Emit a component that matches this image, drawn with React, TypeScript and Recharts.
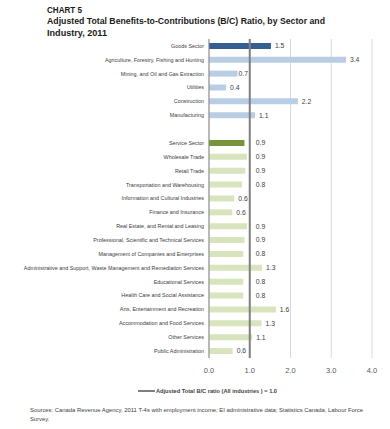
import React from 'react';
import { BarChart, Bar, XAxis, YAxis, CartesianGrid, ReferenceLine, Cell, LabelList } from 'recharts';

const CATEGORIES = [
  'Goods Sector',
  'Agriculture, Forestry, Fishing and Hunting',
  'Mining, and Oil and Gas Extraction',
  'Utilities',
  'Construction',
  'Manufacturing',
  '',
  'Service Sector',
  'Wholesale Trade',
  'Retail Trade',
  'Transportation and Warehousing',
  'Information and Cultural Industries',
  'Finance and Insurance',
  'Real Estate, and Rental and Leasing',
  'Professional, Scientific and Technical Services',
  'Management of Companies and Enterprises',
  'Administrative and Support, Waste Management and Remediation Services',
  'Educational Services',
  'Health Care and Social Assistance',
  'Arts, Entertainment and Recreation',
  'Accommodation and Food Services',
  'Other Services',
  'Public Administration',
];

const RATIOS: (number | null)[] = [
  1.52, 3.36, 0.7, 0.42, 2.18, 1.13,
  null,
  0.87, 0.93, 0.89, 0.81, 0.62, 0.57, 0.93, 0.87, 0.84, 1.3, 0.84, 0.84, 1.64, 1.29, 1.06, 0.58,
];

const GROUPS = [
  'goodsTotal', 'goods', 'goods', 'goods', 'goods', 'goods',
  'none',
  'serviceTotal', 'service', 'service', 'service', 'service', 'service', 'service', 'service',
  'service', 'service', 'service', 'service', 'service', 'service', 'service', 'service',
];

const X_TICKS = [0, 1, 2, 3, 4];
const ALL_INDUSTRIES_RATIO = 1.0;

const TITLE_LINES = [
  'CHART 5',
  'Adjusted Total Benefits-to-Contributions (B/C) Ratio, by Sector and',
  'Industry, 2011',
];
const LEGEND_LABEL = 'Adjusted Total B/C ratio (All industries ) = 1.0';
const SOURCE_LINES = [
  'Sources: Canada Revenue Agency, 2011 T-4s with employment income; EI administrative data; Statistics Canada, Labour Force',
  'Survey.',
];

const COLORS: Record<string, string> = {
  goodsTotal: '#365f91',
  goods: '#b9cde5',
  serviceTotal: '#77933c',
  service: '#d7e4bd',
  none: 'transparent',
};

const FONT = 'Liberation Sans, Arial, sans-serif';

const data = CATEGORIES.map((name, i) => ({ name, value: RATIOS[i], group: GROUPS[i] }));

const ValueLabel = (props: any) => {
  const { x, y, width, height, value } = props;
  if (value == null || !width) return null;
  const pxPerUnit = width / value;
  const lineX = x + pxPerUnit * ALL_INDUSTRIES_RATIO;
  const end = x + width;
  const tw = 9;
  let lx = end + 4;
  if (lx + tw > lineX - 1 && lx < lineX + 3) {
    if (end + 1 + tw <= lineX - 1) lx = end + 1;
    else lx = lineX + 6;
  }
  return (
    <text x={lx} y={y + height / 2} dy="0.35em" fontSize={6.8} fill="#404040" fontFamily={FONT}>
      {Number(value).toFixed(1)}
    </text>
  );
};

const CategoryTick = (props: any) => {
  const { x, y, payload } = props;
  return (
    <text x={x} y={y} dy="0.35em" textAnchor="end" fontSize={5.4} fill="#404040" fontFamily={FONT}>
      {payload.value}
    </text>
  );
};

export default function App() {
  return (
    <div style={{ position: 'absolute', left: 0, top: 0, width: 390, height: 429, background: '#fff' }}>
      <BarChart
        width={390}
        height={429}
        data={data}
        layout="vertical"
        margin={{ top: 39, right: 18, bottom: 41, left: 4 }}
        barCategoryGap="28%"
      >
        <CartesianGrid horizontal={false} stroke="#d9d9d9" />
        <XAxis
          type="number"
          domain={[0, 4]}
          ticks={X_TICKS}
          tickFormatter={(v: number) => v.toFixed(1)}
          axisLine={false}
          tickLine={false}
          tick={{ fontSize: 7.5, fill: '#595959', fontFamily: FONT }}
          tickMargin={4}
          height={30}
        />
        <YAxis
          type="category"
          dataKey="name"
          width={205}
          interval={0}
          axisLine={{ stroke: '#868686' }}
          tickLine={false}
          tickSize={0}
          tickMargin={5}
          tick={<CategoryTick />}
        />
        <Bar dataKey="value" isAnimationActive={false}>
          {data.map((d, i) => (
            <Cell key={i} fill={COLORS[d.group]} />
          ))}
          <LabelList dataKey="value" content={ValueLabel} />
        </Bar>
        <ReferenceLine x={ALL_INDUSTRIES_RATIO} stroke="#7f7f7f" strokeWidth={2} />
      </BarChart>
      <svg width={390} height={429} style={{ position: 'absolute', left: 0, top: 0, pointerEvents: 'none' }}>
        <text x={47} y={12.7} fontSize={9} fontWeight="bold" fill="#1a1a1a" fontFamily={FONT} textLength={35} lengthAdjust="spacingAndGlyphs">{TITLE_LINES[0]}</text>
        <text x={47} y={24.3} fontSize={9} fontWeight="bold" fill="#1a1a1a" fontFamily={FONT} textLength={278} lengthAdjust="spacingAndGlyphs">{TITLE_LINES[1]}</text>
        <text x={47} y={35.5} fontSize={9} fontWeight="bold" fill="#1a1a1a" fontFamily={FONT} textLength={60} lengthAdjust="spacingAndGlyphs">{TITLE_LINES[2]}</text>
        <line x1={138} x2={155} y1={391} y2={391} stroke="#7f7f7f" strokeWidth={2} />
        <text x={156} y={393} fontSize={5.4} fontWeight="bold" fill="#404040" fontFamily={FONT} textLength={121} lengthAdjust="spacingAndGlyphs">{LEGEND_LABEL}</text>
        <text x={30} y={412} fontSize={5.8} fill="#404040" fontFamily={FONT} textLength={333} lengthAdjust="spacingAndGlyphs">{SOURCE_LINES[0]}</text>
        <text x={30} y={421} fontSize={5.8} fill="#404040" fontFamily={FONT}>{SOURCE_LINES[1]}</text>
      </svg>
    </div>
  );
}
